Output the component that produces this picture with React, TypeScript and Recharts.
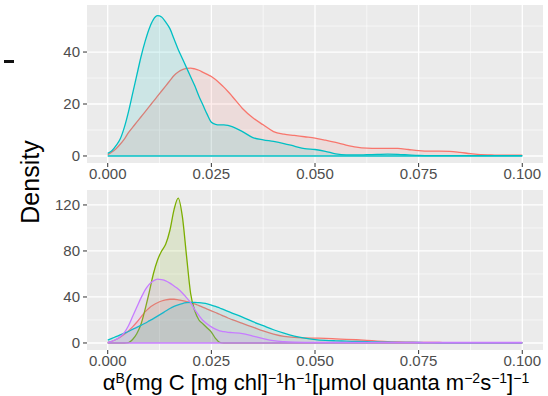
import React from "react";
import { AreaChart, Area, XAxis, YAxis, CartesianGrid, ReferenceLine } from "recharts";

// alpha^B grid (finer where the curves move fast)
const alphaB = [
  0, 0.001, 0.002, 0.003, 0.004, 0.005, 0.006, 0.007, 0.008, 0.009, 0.01, 0.011, 0.012, 0.013, 0.014,
  0.015, 0.016, 0.017, 0.018, 0.019, 0.02, 0.021, 0.022, 0.023, 0.024, 0.025, 0.026, 0.027, 0.028, 0.029, 0.03,
  0.0325, 0.035, 0.0375, 0.04, 0.0425, 0.045, 0.0475, 0.05, 0.0525, 0.055, 0.0575, 0.06, 0.0625, 0.065,
  0.0675, 0.07, 0.0725, 0.075, 0.0775, 0.08, 0.0825, 0.085, 0.0875, 0.09, 0.0925, 0.095, 0.0975, 0.1,
];

// upper panel
const topRed = [
  0.5, 1.5, 2.8, 4.5, 6.5, 9, 11, 13, 15, 17, 19, 21, 23, 25, 27, 29, 31, 32.3, 33.2, 33.7, 33.8, 33.5, 33,
  32.2, 31.4, 30.6, 29.4, 28, 26.5, 24.8, 23,
  18.3, 14.7, 12, 9.4, 8.4, 7.9, 7.4, 6.9, 6.1, 5.2, 4.2, 3.4, 3.0, 2.9, 2.9, 2.9, 2.5, 2.1, 1.9, 1.9, 1.8,
  1.4, 0.9, 0.5, 0.4, 0.3, 0.3, 0.3,
];
const topCyan = [
  1, 2, 4, 6.5, 11, 17, 24, 31, 38, 44, 49, 52.5, 54, 53.5, 51.5, 49, 45, 41, 37.5, 34, 30.5, 27, 23, 19.5,
  16, 13, 12.2, 12, 12, 11.8, 11.3,
  9.4, 7.1, 6.2, 5.6, 4.8, 3.8, 2.8, 2.5, 1.8, 0.8, 0.4, 0.4, 0.5, 0.6, 0.7, 0.6, 0.4, 0.2, 0.1, 0.1, 0.1,
  0.1, 0.1, 0.1, 0.1, 0.1, 0.1, 0.1,
];

// lower panel
const botRed = [
  0.5, 1.5, 3, 5, 7.5, 10.5, 14, 18, 22.5, 27, 30.5, 33, 35, 36.5, 37.5, 38, 38, 37.5, 36.8, 36, 35, 34,
  32.5, 31, 29.5, 28, 26.5, 25, 23.3, 21.7, 20.3,
  17, 13.8, 10.5, 7.8, 5.8, 4.8, 4.4, 4.2, 4, 3.6, 3.2, 2.8, 2.3, 1.7, 1.2, 0.9, 0.7, 0.6, 0.5, 0.4, 0.3,
  0.3, 0.3, 0.3, 0.3, 0.3, 0.3, 0.3,
];
const botGreen = [
  0, 0, 0, 0, 0, 0.3, 3, 8, 16, 29, 44, 60, 72, 80, 86, 98, 116, 126, 110, 76, 43, 28, 20, 16.5, 13, 9.5,
  4, 0.5, 0, 0, 0,
  0, 0, 0, 0, 0, 0, 0, 0, 0, 0, 0, 0, 0, 0, 0, 0, 0, 0, 0, 0, 0, 0, 0, 0, 0, 0, 0, 0,
];
const botCyan = [
  2.5, 4, 5.5, 7, 8.5, 10, 11.8, 13.5, 15.3, 17.2, 19.2, 21.2, 23.3, 25.5, 27.8, 30, 31.8, 33.2, 34.3, 35,
  35.3, 35.3, 35, 34.6, 34, 33, 31.8, 30.4, 29, 27.5, 26,
  22.5, 18.5, 15, 11.5, 8.5, 6, 4.2, 3, 2.3, 1.9, 1.6, 1.3, 1.1, 0.9, 0.7, 0.6, 0.5, 0.4, 0.3, 0.2, 0.2,
  0.2, 0.2, 0.2, 0.2, 0.2, 0.2, 0.2,
];
const botPurple = [
  0.5, 1.5, 3, 5.5, 9, 15, 23, 31, 39, 46, 51, 54, 55.5, 55, 54, 52, 49.5, 47, 43.5, 39.5, 35, 29, 24,
  19.5, 16.5, 14, 12, 10.5, 9.8, 9.3, 9,
  8.2, 6, 3.8, 2, 1.2, 0.8, 0.6, 0.5, 0.5, 0.5, 0.5, 0.5, 0.5, 0.5, 0.5, 0.5, 0.5, 0.5, 0.5, 0.5,
  0.6, 0.6, 0.6, 0.6, 0.6, 0.6, 0.6, 0.6,
];

const xTicks = [0, 0.025, 0.05, 0.075, 0.1];
const xMinor = [0.0125, 0.0375, 0.0625, 0.0875];
const topTicks = [0, 20, 40];
const topMinor = [10, 30, 50];
const botTicks = [0, 40, 80, 120];
const botMinor = [20, 60, 100];

const topData = alphaB.map((x, i) => ({ x, red: topRed[i], cyan: topCyan[i] }));
const botData = alphaB.map((x, i) => ({
  x,
  red: botRed[i],
  green: botGreen[i],
  cyan: botCyan[i],
  purple: botPurple[i],
}));

const FONT = '"Liberation Sans", Arial, sans-serif';
const tickStyle = { fill: "#4D4D4D", fontSize: 15, fontFamily: FONT };

const Panel = ({ data, series, yTicks, yMinor, yDomain, top, xAxisHeight }: any) => (
  <div style={{ position: "absolute", left: 0, top }}>
    <AreaChart width={548} height={185} data={data} margin={{ top: 5, right: 5, left: 0, bottom: 0 }}>
      <CartesianGrid stroke="#fff" strokeWidth={1.3} fill="#EBEBEB" fillOpacity={1}
        verticalValues={xTicks} horizontalValues={yTicks} />
      <CartesianGrid stroke="#fff" strokeWidth={0.6}
        verticalValues={xMinor} horizontalValues={yMinor} />
      <XAxis dataKey="x" type="number" domain={[-0.005, 0.105]} ticks={xTicks} allowDataOverflow
        tickFormatter={(v: number) => v.toFixed(3)} axisLine={false} tickLine={{ stroke: "#333" }}
        tickSize={4} tickMargin={1} tick={tickStyle} height={xAxisHeight} interval={0} />
      <YAxis type="number" domain={yDomain} ticks={yTicks} allowDataOverflow axisLine={false}
        tickLine={{ stroke: "#333" }} tickSize={4} tickMargin={3} tick={tickStyle} width={87} interval={0} />
      {series.map((s: any) => (
        <Area key={s.key} dataKey={s.key} type="monotone" stroke={s.color} strokeWidth={1.3}
          fill={s.color} fillOpacity={0.13} baseValue={0} dot={false} activeDot={false}
          isAnimationActive={false} />
      ))}
      <ReferenceLine segment={[{ x: 0, y: 0 }, { x: 0.1, y: 0 }]} stroke={series[series.length - 1].color}
        strokeWidth={1.3} />
    </AreaChart>
  </div>
);

export default function App() {
  return (
    <div style={{ position: "absolute", left: 0, top: 0, width: 548, height: 396, background: "#fff", fontFamily: FONT }}>
      <Panel data={topData} top={0} xAxisHeight={22} yTicks={topTicks} yMinor={topMinor} yDomain={[-2.7, 58.1]}
        series={[{ key: "red", color: "#F8766D" }, { key: "cyan", color: "#00BFC4" }]} />
      <Panel data={botData} top={185} xAxisHeight={20} yTicks={botTicks} yMinor={botMinor} yDomain={[-6.1, 133]}
        series={[
          { key: "red", color: "#F8766D" },
          { key: "green", color: "#7CAE00" },
          { key: "cyan", color: "#00BFC4" },
          { key: "purple", color: "#C77CFF" },
        ]} />
      <svg width={548} height={396} style={{ position: "absolute", left: 0, top: 0, pointerEvents: "none" }}>
        <rect x={4} y={60} width={10} height={3} fill="#111" />
        <text transform="translate(39,182) rotate(-90)" textAnchor="middle" fontSize={25} fill="#000" fontFamily={FONT}>
          Density
        </text>
        <text x={316} y={390} textAnchor="middle" fontSize={22} fill="#000" fontFamily={FONT}>
          α<tspan dy={-7} fontSize={14}>B</tspan>
          <tspan dy={7}>(mg C [mg chl]</tspan>
          <tspan dy={-7} fontSize={14}>−1</tspan>
          <tspan dy={7}>h</tspan>
          <tspan dy={-7} fontSize={14}>−1</tspan>
          <tspan dy={7}>[μmol quanta m</tspan>
          <tspan dy={-7} fontSize={14}>−2</tspan>
          <tspan dy={7}>s</tspan>
          <tspan dy={-7} fontSize={14}>−1</tspan>
          <tspan dy={7}>]</tspan>
          <tspan dy={-7} fontSize={14}>−1</tspan>
        </text>
      </svg>
    </div>
  );
}
